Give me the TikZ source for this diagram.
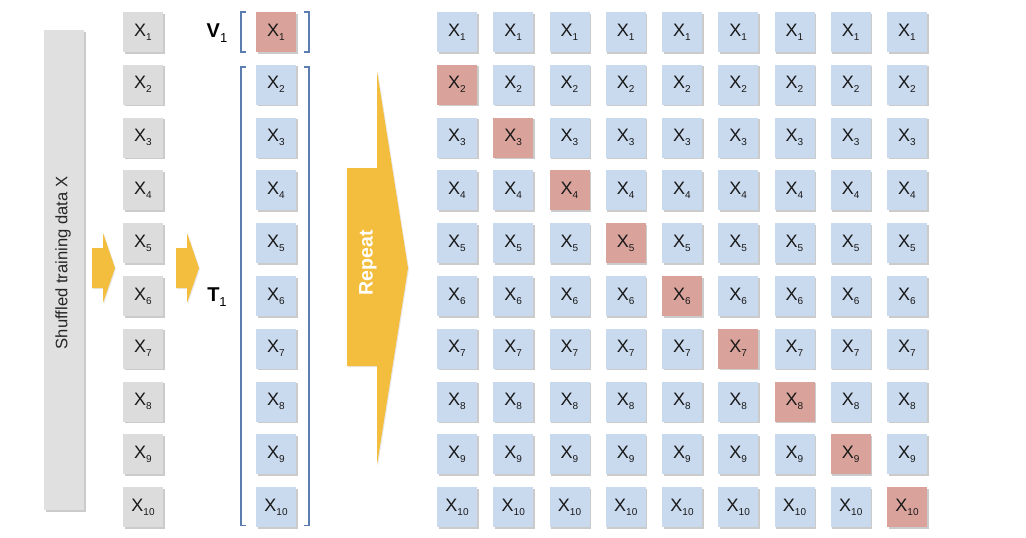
\documentclass[tikz,border=0pt]{standalone}
\usepackage{fontspec}
\setmainfont{Liberation Sans}
\usetikzlibrary{positioning,shadows}
\definecolor{cellgray}{HTML}{DCDCDC}
\definecolor{cellblue}{HTML}{C9D9EE}
\definecolor{cellpink}{HTML}{D9A39B}
\definecolor{barfill}{HTML}{E0E0E0}
\definecolor{arrowfill}{HTML}{F3BD3D}
\definecolor{bracketcol}{HTML}{5B7DAF}
\newcommand{\xsub}[1]{X{\fontsize{10}{10}\selectfont\raisebox{-4pt}{#1}}}
\tikzset{
  cell/.style={minimum width=40pt, minimum height=40pt, inner sep=0pt, text=black!90,
    font=\fontsize{18}{18}\selectfont,
    drop shadow={shadow xshift=1.5pt, shadow yshift=-1.5pt, fill=black!45, opacity=.45}},
  setlabel/.style={inner sep=0pt, font=\fontsize{20}{20}\selectfont\bfseries},
  bracket/.style={draw=bracketcol, line width=1.8pt},
  blockarrow/.style={fill=arrowfill, drop shadow={shadow xshift=1pt, shadow yshift=-1pt, fill=black!30, opacity=.3}}
}
\begin{document}
\begin{tikzpicture}[x=1pt,y=-1pt]
\useasboundingbox (0,0) rectangle (1026,538);

\filldraw[fill=barfill, draw=none, drop shadow={shadow xshift=1.5pt, shadow yshift=-1.5pt, fill=black!45, opacity=.45}] (44,30) rectangle (84,510);
\node[rotate=90, font=\fontsize{16.6}{16.6}\selectfont, text=black!85] (bartext) at (63,263) {Shuffled training data X};

\path[blockarrow] (92,248) -- (103,248) -- (103,233) -- (115,268) -- (103,303) -- (103,288) -- (92,288) -- cycle;
\path[blockarrow] (176,248) -- (187,248) -- (187,233) -- (199,268) -- (187,303) -- (187,288) -- (176,288) -- cycle;

\foreach \i in {1,...,10}{
  \pgfmathsetmacro\ry{32+52.8*(\i-1)}
  \node[cell, fill=cellgray] (g-\i) at (143,\ry) {\xsub{\i}};
}

\node[cell, fill=cellpink] (t-1) at (276,32) {\xsub{1}};
\foreach \i in {2,...,10}{
  \pgfmathsetmacro\ry{32+52.8*(\i-1)}
  \node[cell, fill=cellblue] (t-\i) at (276,\ry) {\xsub{\i}};
}

\node[setlabel] (v1) at (217,33) {V\raisebox{-5pt}{\fontsize{13}{13}\selectfont\mdseries 1}};
\node[setlabel] (t1) at (217,297) {T\raisebox{-5pt}{\fontsize{13}{13}\selectfont\mdseries 1}};

\draw[bracket] ([xshift=-10pt]t-1.north west) -- ([xshift=-15pt]t-1.north west) -- ([xshift=-15pt]t-1.south west) -- ([xshift=-10pt]t-1.south west);
\draw[bracket] ([xshift=8pt]t-1.north east) -- ([xshift=13pt]t-1.north east) -- ([xshift=13pt]t-1.south east) -- ([xshift=8pt]t-1.south east);
\draw[bracket] ([xshift=-10pt,yshift=-2pt]t-2.north west) -- ([xshift=-15pt,yshift=-2pt]t-2.north west) -- ([xshift=-15pt,yshift=2pt]t-10.south west) -- ([xshift=-10pt,yshift=2pt]t-10.south west);
\draw[bracket] ([xshift=8pt,yshift=-2pt]t-2.north east) -- ([xshift=13pt,yshift=-2pt]t-2.north east) -- ([xshift=13pt,yshift=2pt]t-10.south east) -- ([xshift=8pt,yshift=2pt]t-10.south east);

\path[blockarrow] (347,168) -- (377,168) -- (377,71) -- (408,268) -- (377,465) -- (377,366) -- (347,366) -- cycle;
\node[rotate=90, text=white, font=\fontsize{19.5}{19.5}\selectfont\bfseries] (repeat) at (368,263) {Repeat};

\foreach \i in {1,...,10}{
  \foreach \j in {1,...,9}{
    \pgfmathsetmacro\ry{32+52.8*(\i-1)}
    \pgfmathsetmacro\rx{457+56.25*(\j-1)}
    \ifnum\numexpr\i-1\relax=\j \def\cellcol{cellpink}\else\def\cellcol{cellblue}\fi
    \node[cell, fill=\cellcol] (c-\i-\j) at (\rx,\ry) {\xsub{\i}};
  }
}
\end{tikzpicture}
\end{document}
